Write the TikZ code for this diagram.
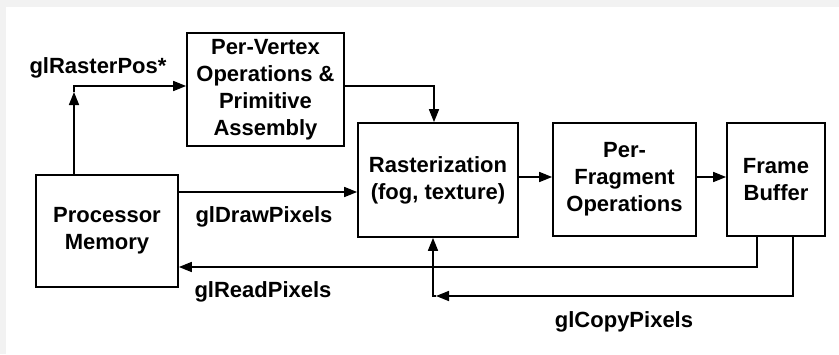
\documentclass[tikz,border=0pt]{standalone}
\usepackage{fontspec}
\setmainfont{Liberation Sans}
\usetikzlibrary{arrows.meta}
\begin{document}
\begin{tikzpicture}[x=1pt,y=-1pt,
  box/.style={draw, line width=1.7pt, inner sep=0pt},
  lbl/.style={font=\fontsize{22}{27}\selectfont\bfseries, align=center, inner sep=0pt},
  conn/.style={line width=1.6pt},
  tip/.style={-{Triangle[length=13pt,width=10pt]}}]
\fill[black!5] (0,0) rectangle (839,354);
\fill[white] (6,7) rectangle (839,354);
\useasboundingbox (0,0) rectangle (839,354);

\node[box, lbl, minimum width=142pt, minimum height=112pt] (pm) at (107,231) {Processor\\Memory};
\node[box, lbl, minimum width=157pt, minimum height=113pt] (pv) at (265.5,89.5) {Per-Vertex\\Operations \&\\Primitive\\Assembly};
\node[box, lbl, minimum width=160pt, minimum height=114pt] (ra) at (438,180) {Rasterization\\(fog, texture)};
\node[box, lbl, minimum width=143pt, minimum height=113pt] (pf) at (624.5,179.5) {Per-\\Fragment\\Operations};
\node[box, lbl, minimum width=98pt, minimum height=113pt] (fb) at (776,179.5) {Frame\\Buffer};

\node[lbl] (t1) at (98,68) {glRasterPos*};
\node[lbl] (t2) at (264,217) {glDrawPixels};
\node[lbl] (t3) at (263,292) {glReadPixels};
\node[lbl] (t4) at (624,322) {glCopyPixels};

\coordinate (c1) at (74,86);
\coordinate (c1a) at (74,92);
\coordinate (c2) at (434,86);
\coordinate (h1) at (0,177);
\coordinate (h2) at (0,192);
\coordinate (c3) at (757,267);
\coordinate (c4) at (793,296);
\coordinate (c5) at (433,296);
\coordinate (c5a) at (436,296);

\draw[conn,tip] (pm.north -| c1) -- (c1a);
\draw[conn,tip] (c1a) -- (c1) -- (pv.west |- c1);
\draw[conn,tip] (pv.east |- c2) -- (c2) -- (ra.north -| c2);
\draw[conn,tip] (ra.east |- h1) -- (pf.west |- h1);
\draw[conn,tip] (pf.east |- h1) -- (fb.west |- h1);
\draw[conn,tip] (pm.east |- h2) -- (ra.west |- h2);
\draw[conn,tip] (fb.south -| c3) -- (c3) -- (pm.east |- c3);
\draw[conn,tip] (fb.south -| c4) -- (c4) -- (c5a);
\draw[conn,tip] (c5a) -- (c5) -- (ra.south -| c5);
\end{tikzpicture}
\end{document}
